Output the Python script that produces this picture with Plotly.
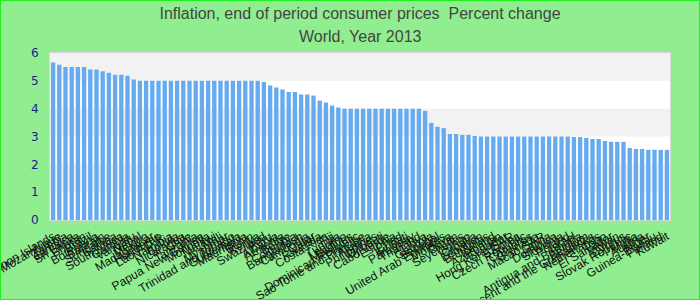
import plotly.graph_objects as go

countries = [
    "Solomon Islands", "Mozambique", "Zambia", "Jamaica", "Sri Lanka", "Bhutan", "Brazil", "Botswana",
    "Bahrain", "Suriname", "Samoa", "South Africa", "Gambia", "Vanuatu", "Nepal", "Mexico",
    "Madagascar", "Honduras", "Lao P.D.R.", "Namibia", "Bolivia", "Nicaragua", "Chile", "Tanzania",
    "Papua New Guinea", "Mongolia", "Malawi", "Mali", "Myanmar", "Trinidad and Tobago", "Guatemala",
    "Mauritania", "Benin", "Kenya", "Swaziland", "Peru", "Albania", "Armenia", "Belize", "Colombia",
    "Bangladesh", "Cambodia", "Qatar", "Rwanda", "Costa Rica", "Fiji", "Tunisia", "Lesotho",
    "Maldives", "Dominican Republic", "Sao Tome and Principe", "Algeria", "Philippines", "Djibouti",
    "Cabo Verde", "Estonia", "Chad", "Kiribati", "Paraguay", "Thailand", "Libya", "Georgia",
    "Senegal", "United Arab Emirates", "Moldova", "Oman", "Seychelles", "Congo", "Croatia",
    "Lebanon", "Bahamas", "Iceland", "Azerbaijan", "Ecuador", "Hong Kong SAR", "Korea",
    "Czech Republic", "Comoros", "Grenada", "Macao SAR", "Latvia", "Dominica", "Slovenia", "Poland",
    "Israel", "Antigua and Barbuda", "Belgium", "St. Vincent and the Grenadines", "Netherlands",
    "Togo", "El Salvador", "Taiwan", "Cyprus", "Slovak Republic", "Malta", "Austria", "Niger",
    "Guinea-Bissau", "Finland", "Kuwait",
]

inflation = [
    5.66, 5.58, 5.5, 5.5, 5.5, 5.5, 5.41, 5.41, 5.34, 5.29,
    5.22, 5.22, 5.18, 5.05, 5.0, 5.0, 5.0, 5.0, 5.0, 5.0,
    5.0, 5.0, 5.0, 5.0, 5.0, 5.0, 5.0, 5.0, 5.0, 5.0,
    5.0, 5.0, 5.0, 5.0, 4.96, 4.83, 4.76, 4.69, 4.6, 4.6,
    4.51, 4.51, 4.47, 4.29, 4.22, 4.11, 4.04, 4.0, 4.0, 4.0,
    4.0, 4.0, 4.0, 4.0, 4.0, 4.0, 4.0, 4.0, 4.0, 4.0,
    3.92, 3.49, 3.35, 3.3, 3.09, 3.09, 3.06, 3.06, 3.02, 3.0,
    3.0, 3.0, 3.0, 3.0, 3.0, 3.0, 3.0, 3.0, 3.0, 3.0,
    3.0, 3.0, 3.0, 3.0, 2.98, 2.98, 2.95, 2.91, 2.91, 2.84,
    2.81, 2.81, 2.81, 2.59, 2.55, 2.55, 2.52, 2.52, 2.52, 2.52,
]

y_ticks = [0, 1, 2, 3, 4, 5, 6]

title_line1 = "Inflation, end of period consumer prices  Percent change"
title_line2 = "World, Year 2013"

W, H = 700, 300
ML, MR, MT, MB = 50, 30, 53, 80
pw = W - ML - MR
ph = H - MT - MB

fig = go.Figure(go.Bar(
    x=countries, y=inflation,
    marker=dict(color="#66aaf0", line=dict(width=0)),
))

shapes = []
# alternating bands between y gridlines
for i in range(len(y_ticks) - 1):
    if i % 2 == 1:
        shapes.append(dict(type="rect", xref="paper", yref="y", x0=0, x1=1,
                           y0=y_ticks[i], y1=y_ticks[i + 1],
                           fillcolor="#f2f2f2", line=dict(width=0), layer="below"))
# outer figure border
shapes.append(dict(type="rect", xref="paper", yref="paper",
                   x0=-ML / pw, x1=1 + MR / pw, y0=-MB / ph, y1=1 + MT / ph,
                   line=dict(color="#22ee22", width=2), fillcolor="rgba(0,0,0,0)", layer="above"))

title_font = dict(family="Liberation Sans, Arial, sans-serif", size=16, color="#444444")

fig.update_layout(
    width=W, height=H,
    margin=dict(l=ML, r=MR, t=MT, b=MB),
    paper_bgcolor="#90ee90",
    plot_bgcolor="white",
    bargap=0.3,
    showlegend=False,
    shapes=shapes,
    title=dict(
        text=title_line1,
        x=0.5, xref="paper", xanchor="center", y=1 - 13 / H, yref="container", yanchor="middle",
        font=title_font,
    ),
    annotations=[dict(
        text=title_line2, xref="paper", yref="paper", x=0.5, y=1 + (MT - 36) / ph,
        xanchor="center", yanchor="middle", showarrow=False, font=title_font,
    )],
    xaxis=dict(
        type="category", tickmode="linear", dtick=1, tickangle=-30,
        tickfont=dict(family="Liberation Sans, Arial, sans-serif", size=12, color="#111111"),
        showgrid=False, showline=True, linecolor="#d8d8d8", linewidth=1, mirror=True,
        ticks="outside", ticklen=4, tickcolor="rgba(0,0,0,0)", automargin=False,
    ),
    yaxis=dict(
        range=[0, 6], tickvals=y_ticks, showgrid=False, zeroline=False,
        tickfont=dict(family="DejaVu Sans, sans-serif", size=12, color="#1c1c8c"),
        showline=True, linecolor="#d8d8d8", linewidth=1, mirror=True,
        ticks="outside", ticklen=8, tickcolor="rgba(0,0,0,0)", automargin=False,
    ),
)

fig.write_html("out.html")
